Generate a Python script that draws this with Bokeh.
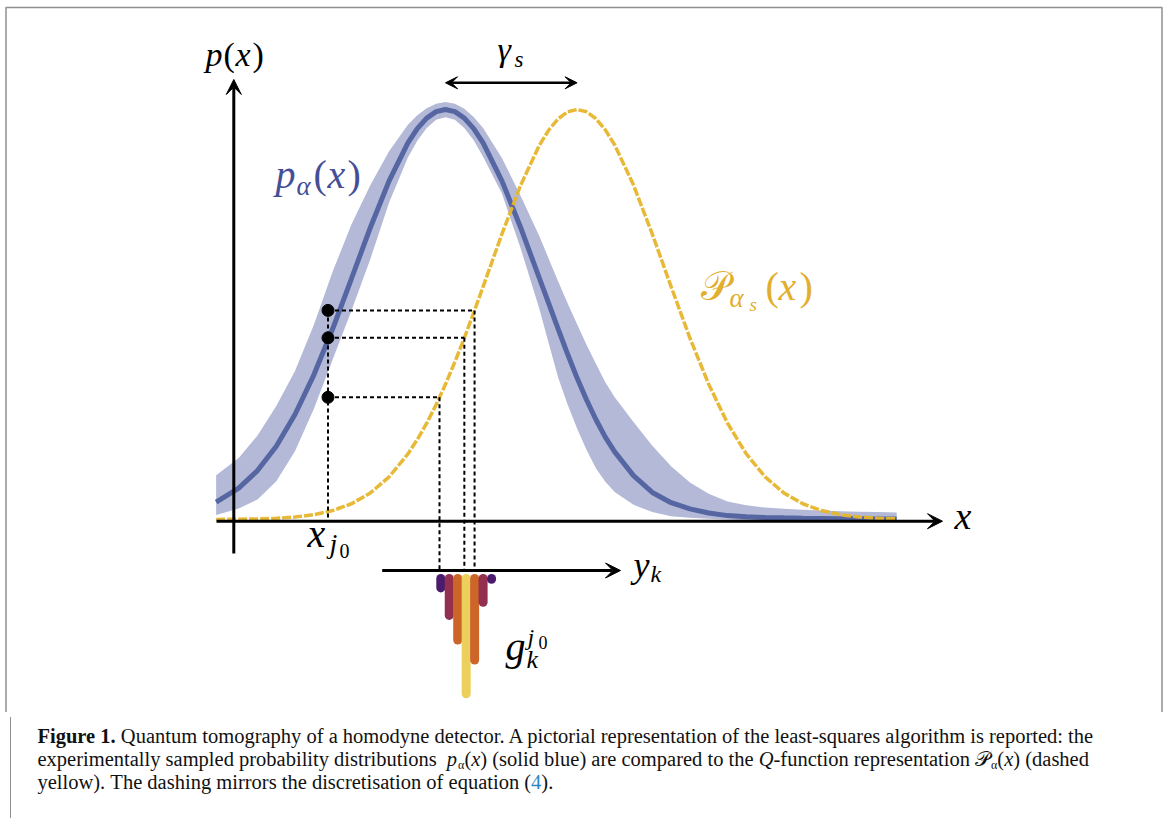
import numpy as np
from bokeh.plotting import figure
from bokeh.models import Range1d, Label, Arrow, VeeHead, Div
from bokeh.layouts import column
from bokeh.embed import file_html
from bokeh.resources import INLINE

# ---------------- data ----------------
# abscissa x (units: blue width), ordinate p(x) (units: blue peak height)
x_grid = [-2.44, -2.2, -2.0, -1.8, -1.6, -1.4, -1.2, -1.0, -0.8, -0.6, -0.4,
          -0.3, -0.2, -0.1, 0.0, 0.1, 0.2, 0.3, 0.4, 0.6, 0.8, 1.0, 1.1, 1.2,
          1.3, 1.4, 1.5, 1.6, 1.7, 1.8, 2.0, 2.2, 2.4, 2.6, 2.8, 3.0, 3.2, 3.4,
          3.6, 3.8, 4.0, 4.2, 4.4, 4.6, 4.8]
p_alpha = [0.0423, 0.0764, 0.1193, 0.1788, 0.2566, 0.3529, 0.4652, 0.5878,
           0.7117, 0.8259, 0.9185, 0.9533, 0.9790, 0.9947, 1.0, 0.9947, 0.9790,
           0.9533, 0.9185, 0.8259, 0.7117, 0.5878, 0.5257, 0.4640, 0.4030,
           0.3450, 0.2920, 0.2440, 0.2010, 0.1650, 0.1070, 0.0660, 0.0410,
           0.0260, 0.0160, 0.0095, 0.0065, 0.0050, 0.0040, 0.0032, 0.0026,
           0.0020, 0.0016, 0.0012, 0.0010]
p_alpha_upper = [0.108, 0.150, 0.205, 0.277, 0.363, 0.475, 0.605, 0.720, 0.815,
                 0.898, 0.963, 0.986, 1.003, 1.014, 1.018, 1.014, 1.002, 0.982,
                 0.955, 0.882, 0.789, 0.690, 0.635, 0.580, 0.527, 0.476, 0.426,
                 0.380, 0.335, 0.298, 0.238, 0.180, 0.130, 0.090, 0.063, 0.044,
                 0.035, 0.029, 0.026, 0.024, 0.022, 0.020, 0.019, 0.018, 0.017]
p_alpha_lower = [0.011, 0.027, 0.049, 0.093, 0.167, 0.270, 0.390, 0.510, 0.635,
                 0.773, 0.883, 0.924, 0.955, 0.975, 0.981, 0.975, 0.955, 0.925,
                 0.885, 0.795, 0.661, 0.513, 0.428, 0.345, 0.280, 0.222, 0.170,
                 0.125, 0.092, 0.067, 0.036, 0.018, 0.008, 0.004, 0.002, 0.000,
                 -0.002, -0.003, -0.003, -0.003, -0.003, -0.003, -0.003, -0.003,
                 -0.003]
q_alpha_s = [0.0002, 0.0007, 0.0014, 0.0030, 0.0061, 0.0118, 0.0218, 0.0384,
             0.0646, 0.1040, 0.1599, 0.1949, 0.2349, 0.2799, 0.3299, 0.3843,
             0.4427, 0.5042, 0.5679, 0.6962, 0.8157, 0.9134, 0.9504, 0.9776,
             0.9944, 1.0, 0.9944, 0.9776, 0.9504, 0.9134, 0.8157, 0.6962,
             0.5679, 0.4427, 0.3299, 0.2349, 0.1599, 0.1040, 0.0646, 0.0384,
             0.0218, 0.0118, 0.0061, 0.0030, 0.0014]
x_j0 = -1.25
samples_j0 = [0.510, 0.443, 0.298]
y_k = [-0.05, 0.04, 0.13, 0.22, 0.31, 0.40, 0.49]
g_k = [0.023, 0.090, 0.150, 0.281, 0.199, 0.058, 0.002]
g_colors = ["#4a1a6c", "#93304f", "#cd6428", "#ecd05b", "#cd6428", "#93304f", "#4a1a6c"]

# ---------------- layout constants ----------------
ORIGIN_X, ORIGIN_Y = 445.0, 519.0    # page pixel of data (0, 0)
PX_U, PX_V = 94.0, 410.0             # pixels per data unit
FIG_X, FIG_Y = 0, 0                  # page position of the figure
W, H = 1166, 712                     # chart part
CAP_H = 104                          # caption part
BASELINE_FIX = 0.35                  # em shift so that labels sit on their baseline

def du(X):
    return (X - ORIGIN_X) / PX_U

def dv(Y):
    return (ORIGIN_Y - Y) / PX_V

BLUE = "#5566a2"
BAND = "#b3b9d7"
YELLOW = "#e6b52c"
BLUE_TXT = "#444f98"
GOLD_TXT = "#e2ae2e"
FRAME = "#8f8f8f"
FONT = "Liberation Serif"

p = figure(width=W, height=H, output_backend="svg", toolbar_location=None,
           x_range=Range1d(du(FIG_X), du(FIG_X + W)),
           y_range=Range1d(dv(FIG_Y + H), dv(FIG_Y)),
           min_border=0, background_fill_color="white",
           border_fill_color="white")
p.axis.visible = False
p.grid.visible = False
p.outline_line_color = None

# outer frame (left, top, right), open at the bottom where the caption continues it
p.line([du(5.5), du(5.5), du(1161.5), du(1161.5)], [dv(H + 20), dv(7), dv(7), dv(H + 20)],
       line_color=FRAME, line_width=1.5)

# band and curves
p.varea(x=x_grid, y1=p_alpha_lower, y2=p_alpha_upper, fill_color=BAND, fill_alpha=1.0)
p.line(x_grid, p_alpha, line_color=BLUE, line_width=5)
p.line(x_grid, q_alpha_s, line_color=YELLOW, line_width=3.5, line_dash="9 2",
       line_alpha=0.95)

# inverse of the rising side of the Q-function at the sampled values
xa = np.array(x_grid)
qa = np.array(q_alpha_s)
peak_q = int(np.argmax(qa))
hits = np.interp(samples_j0, qa[:peak_q + 1], xa[:peak_q + 1])

YK_AXIS = dv(570)
n = len(samples_j0)
# dotted construction lines
p.segment(x0=[x_j0], y0=[max(samples_j0)], x1=[x_j0], y1=[dv(520)],
          line_color="black", line_width=2, line_dash="4 3")
p.segment(x0=[x_j0] * n, y0=samples_j0, x1=list(hits), y1=samples_j0,
          line_color="black", line_width=2, line_dash="4 3")
p.segment(x0=list(hits), y0=samples_j0, x1=list(hits), y1=[YK_AXIS] * n,
          line_color="black", line_width=2, line_dash="4 3")
p.scatter([x_j0] * n, samples_j0, size=12, color="black")

# axes as arrows
def head(size):
    return VeeHead(size=size, fill_color="black", line_color="black")

p.add_layout(Arrow(end=head(15), x_start=du(216), y_start=dv(520.7), x_end=du(942),
                   y_end=dv(520.7), line_width=3, line_color="black"))
p.add_layout(Arrow(end=head(15), x_start=du(233.3), y_start=dv(553), x_end=du(233.3),
                   y_end=dv(79), line_width=3, line_color="black"))
p.add_layout(Arrow(end=head(15), x_start=du(381.7), y_start=YK_AXIS, x_end=du(620),
                   y_end=YK_AXIS, line_width=3, line_color="black"))
# gamma_s arrow between the two peaks
x_peak_p = x_grid[int(np.argmax(p_alpha))]
x_peak_q = x_grid[peak_q]
p.add_layout(Arrow(start=head(12), end=head(12), x_start=x_peak_p, y_start=dv(82.3),
                   x_end=x_peak_q, y_end=dv(82.3), line_width=2.5, line_color="black"))

# g_k bars hanging from the y_k axis
BAR_TOP = dv(578)
p.segment(x0=y_k, y0=[BAR_TOP] * len(y_k), x1=y_k,
          y1=[BAR_TOP - g for g in g_k], line_color=g_colors, line_width=9,
          line_cap="round")

# ---------------- math labels ----------------
def put(txt, X, Y, size, style="italic", color="black"):
    yb = Y - BASELINE_FIX * size
    p.add_layout(Label(x=X - FIG_X, y=FIG_Y + H - yb, x_units="screen", y_units="screen",
                       text=txt, text_font=FONT, text_font_size=f"{size}px",
                       text_font_style=style, text_color=color,
                       text_baseline="alphabetic", text_align="left"))

IT, N = "italic", "normal"
for t, X, Y, s, st in [("p", 205, 66, 34, IT), ("(", 223, 66, 34, N),
                       ("x", 235, 66, 34, IT), (")", 252, 66, 34, N)]:
    put(t, X, Y, s, st)
for t, X, Y, s, st in [("p", 275, 188, 40, IT), ("α", 296, 195, 27, IT),
                       ("(", 313, 188, 40, N), ("x", 327, 188, 40, IT),
                       (")", 347, 188, 40, N)]:
    put(t, X, Y, s, st, BLUE_TXT)
put("γ", 497, 61, 34, IT)
put("s", 514, 67, 23, IT)
for t, X, Y, s, st in [("𝒫", 700, 300, 40, N), ("α", 729, 307, 27, IT),
                       ("s", 749, 311, 19, IT), ("(", 765, 300, 40, N),
                       ("x", 778, 300, 40, IT), (")", 799, 300, 40, N)]:
    put(t, X, Y, s, st, GOLD_TXT)
put("x", 954, 529, 38, IT)
put("x", 307, 547, 40, IT)
put("j", 329, 553, 28, IT)
put("0", 339, 557, 20, N)
put("y", 633, 577, 36, IT)
put("k", 650, 582, 24, IT)
put("g", 505, 660, 40, IT)
put("k", 526, 668, 26, IT)
put("j", 527, 645, 24, IT)
put("0", 538, 648, 18, N)

# ---------------- caption ----------------
sub = 'style="font-size:12px;line-height:0;vertical-align:-3px;margin-left:1px"'
caption = (
    '<div style="position:relative;margin-left:5px;width:1157px;height:' + str(CAP_H) + 'px;'
    'border-left:1.5px solid ' + FRAME + ';border-right:1.5px solid ' + FRAME + ';'
    'box-sizing:border-box;">'
    '<div style="position:absolute;left:26.5px;top:8px;font-family:\'Liberation Serif\',serif;'
    'font-size:20.5px;line-height:23.2px;color:#111;white-space:nowrap;">'
    '<b>Figure 1.</b> Quantum tomography of a homodyne detector. A pictorial representation '
    'of the least-squares algorithm is reported: the<br>'
    'experimentally sampled probability distributions &nbsp;<i>p</i><sub ' + sub + '>α</sub>'
    '(<i>x</i>) (solid blue) are compared to the <i>Q</i>-function representation '
    '𝒫<sub ' + sub + '>α</sub>(<i>x</i>) (dashed<br>'
    'yellow). The dashing mirrors the discretisation of equation '
    '(<span style="color:#2e88c4">4</span>).</div></div>'
)
div = Div(text=caption, width=W, height=CAP_H)

layout = column(p, div, spacing=0)
open("out.html", "w").write(file_html(layout, INLINE))
